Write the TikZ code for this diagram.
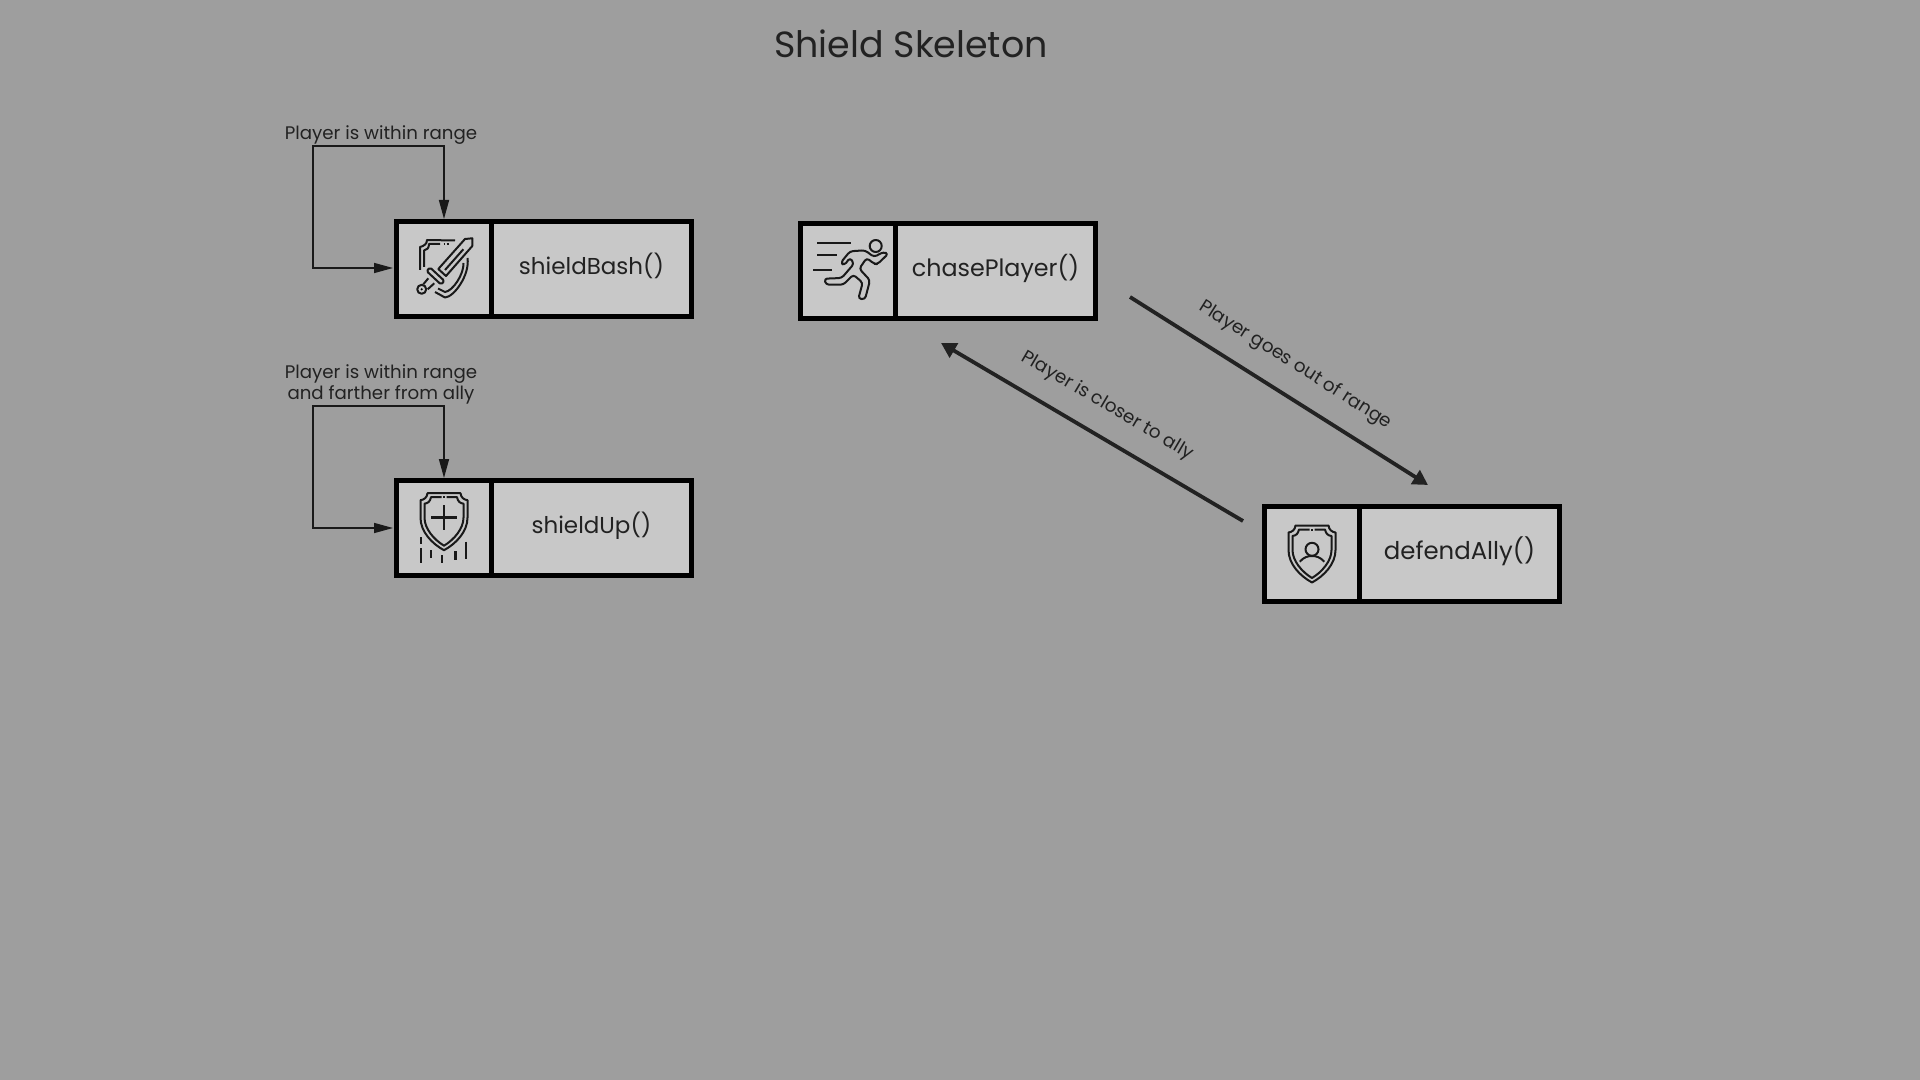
\documentclass[tikz,border=0pt]{standalone}
\usepackage{fontspec}
\setmainfont{Poppins}
\usetikzlibrary{positioning,arrows.meta}
\definecolor{backgrey}{HTML}{9E9E9E}
\definecolor{cellgrey}{HTML}{C8C8C8}
\definecolor{inkgrey}{HTML}{222222}
\tikzset{
  cell/.style={draw=black,fill=cellgrey,line width=2.5pt,inner sep=0pt,outer sep=0pt,minimum height=47.5pt,text=inkgrey},
  iconcell/.style={cell,minimum width=47.5pt},
  namecell/.style={cell,minimum width=100pt,text height=8pt,text depth=2.5pt},
  iconline/.style={line width=1pt,draw=black!90,line join=round},
  looparrow/.style={line width=.8pt,draw=black!90,{Triangle[length=9.5pt,width=5pt]}-{Triangle[length=9.5pt,width=5pt]},shorten <=1.75pt,shorten >=1.25pt},
  flowarrow/.style={line width=1.9pt,draw=inkgrey,-{Triangle[length=7.5pt,width=8pt]}},
  looplabel/.style={inner sep=0pt,text=inkgrey,font=\fontsize{9.1}{10.5}\selectfont,align=center},
  flowlabel/.style={inner sep=0pt,text=inkgrey,font=\fontsize{9.2}{10.5}\selectfont,sloped,above=9.5pt}
}
\def\shieldoutline{
  \draw[iconline](-16.5,-28.5)--(16.5,-28.5) .. controls (17,-24) and (20,-22) .. (23.5,-21.5)--(23.5,-4) .. controls (23.5,10) and (12,22) .. (0,28.5) .. controls (-12,22) and (-23.5,10) .. (-23.5,-4)--(-23.5,-21.5) .. controls (-20,-22) and (-17,-24) .. (-16.5,-28.5)--cycle;
  \draw[iconline](-2.5,-24.5)--(-13,-24.5) .. controls (-14,-20) and (-16,-18.5) .. (-19.5,-18)--(-19.5,-4) .. controls (-19.5,7) and (-10,18) .. (0,24) .. controls (10,18) and (19.5,7) .. (19.5,-4)--(19.5,-18) .. controls (16,-18.5) and (14,-20) .. (13,-24.5)--(2.5,-24.5);
}
\begin{document}
\begin{tikzpicture}[x=0.5pt,y=-0.5pt]
\fill[backgrey](0,0)rectangle(1920,1080);
\node[inner sep=0pt,text=inkgrey,font=\fontsize{18.2}{22}\selectfont](title)at(911,44){Shield Skeleton};
% the four states
\foreach \n/\x/\y/\s/\t in {bash/444/269/11.5/shieldBash(),up/444/528/11.5/shieldUp(),chase/848/271/11.9/chasePlayer(),ally/1312/554/12.2/defendAlly()}  {
  \node[iconcell](\n icon)at(\x,\y){};
  \node[namecell,font=\fontsize{\s}{14}\selectfont,right=0pt of \n icon](\n name){\t};
  \draw[line width=2.5pt](\n icon.north east)--(\n icon.south east);
}
% self loops
\node[looplabel](bashlabel)at(381,135){Player is within range};
\node[looplabel](uplabel)at(381,384){Player is within range\\and farther from ally};
\foreach \n/\y/\d in {bash/146/.5pt,up/406/0pt}  {
  \coordinate(\n corner)at(313,\y);
  \draw[looparrow]([yshift=\d]\n icon.west)-|(\n corner)-|(\n icon.north);
}
% transitions
\coordinate(outstart)at(1130,297);
\coordinate(outend)at(1428,485);
\coordinate(closerstart)at(1243,521);
\coordinate(closerend)at(941,343);
\draw[flowarrow](outstart)--node[flowlabel](outlabel){Player goes out of range}(outend);
\draw[flowarrow](closerstart)--node[flowlabel](closerlabel){Player is closer to ally}(closerend);
% icon of shieldBash
\begin{scope}[shift={(bashicon.center)}]
\draw[iconline](11,-28.5)--(-17,-29) .. controls (-17,-25) and (-20,-23) .. (-24,-22)--(-24,1);
\draw[iconline](-4,-25)--(-15,-25) .. controls (-15,-21) and (-17,-19) .. (-20,-18.5)--(-20,-2);
\draw[iconline](-.5,-25)--(.5,-25)(2.5,-25)--(5,-25);
\draw[iconline](23.5,-11) .. controls (26,6) and (10,28) .. (1,28.5)--(-9,23);
\draw[iconline](19.5,-6) .. controls (20,5) and (9,22) .. (1,23)--(-6,19.5);
\draw[iconline,fill=cellgrey](-5.7,0)--(21,-30)--(28.3,-30.7)--(28.3,-23)--(2,7)--cycle;
\draw[iconline](1,1)--(19.3,-19.7);
\draw[iconline,fill=cellgrey,rounded corners=.8pt](-14,-1.5)--(.4,11.9)--(-3,15.5)--(-17.4,2.1)--cycle;
\draw[iconline](-15.7,9.3)--(-20.7,15.3)(-9.7,14.3)--(-16.3,20.3);
\draw[iconline,fill=cellgrey](-22.3,20.3)circle(4.5);
\fill[black](-22.3,20.3)circle(1.2);
\end{scope}
% icon of shieldUp
\begin{scope}[shift={(upicon.center)}]
\begin{scope}[yshift=3.15pt]
\shieldoutline
\draw[iconline](-.8,-24.5)--(.8,-24.5);
\end{scope}
\draw[iconline,line width=1.3pt](-13,-10.5)--(13,-10.5)(0,-23)--(0,2);
\foreach \px/\pa/\pb in {-23.3/9.3/16,-23.3/20.3/35,-13/22/30.3,-2/27/35.3,11.3/23/32,21.7/13.7/31.3}  {
  \draw[iconline,line width=1.2pt](\px,\pa)--(\px,\pb);
}
\end{scope}
% icon of chasePlayer
\begin{scope}[shift={(chaseicon.center)}]
\draw[iconline](27.7,-25)circle(6);
\draw[iconline,rounded corners=1.5pt](-7.3,-8.3)--(2,-19.7)--(17,-20.7)--(26,-14)--(35.3,-19)--(40.3,-17.3)--(29.3,-6.7)--(26,-7.3)--(18.7,-13)--(11.3,-2.3)--(22,9.3)--(17,28.3)--(10.3,27.7)--(14.7,11.7)--(5.3,3.7)--(-4.7,13.7)--(-22,13.7)--(-23.7,7.7)--(-6.3,7)--(6,-7.3)--(2,-13.3)--(-3.7,-5.7)--cycle;
\draw[iconline](-30.7,-28)--(3,-28)(-30.7,-15.7)--(-11.3,-15.7)(-34.7,-1.3)--(-16.3,-1.3);
\end{scope}
% icon of defendAlly
\begin{scope}[shift={(allyicon.center)}]
\shieldoutline
\draw[iconline](-.8,-24.5)--(.8,-24.5);
\draw[iconline](0,-4.7)circle(6.5);
\draw[iconline](-12.3,7.7) .. controls (-8,3) and (-4,2) .. (0,2) .. controls (4,2) and (8,3) .. (12.3,7.7);
\end{scope}
\end{tikzpicture}
\end{document}
